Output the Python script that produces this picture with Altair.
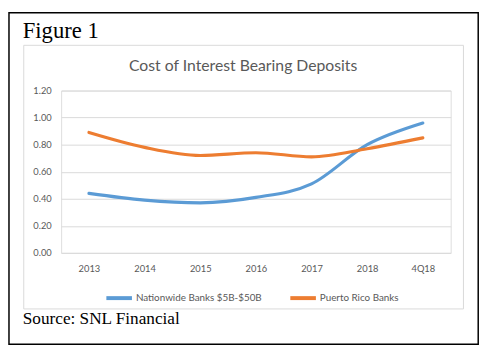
import altair as alt
import pandas as pd

categories = ["2013", "2014", "2015", "2016", "2017", "2018", "4Q18"]
nationwide = [0.44, 0.39, 0.37, 0.41, 0.51, 0.80, 0.96]
puerto_rico = [0.89, 0.78, 0.72, 0.74, 0.71, 0.77, 0.85]
series_names = ["Nationwide Banks $5B-$50B", "Puerto Rico Banks"]
series_colors = ["#5B9BD5", "#ED7D31"]
y_ticks = [0.0, 0.2, 0.4, 0.6, 0.8, 1.0, 1.2]

rows = []
for c, v in zip(categories, nationwide):
    rows.append({"cat": c, "value": v, "series": series_names[0]})
for c, v in zip(categories, puerto_rico):
    rows.append({"cat": c, "value": v, "series": series_names[1]})
df = pd.DataFrame(rows)

W, H = 396, 165
FONT = "Lato"

lines = alt.Chart(df).mark_line(strokeWidth=3.2, interpolate="monotone", strokeCap="round").encode(
    x=alt.X("cat:O", sort=categories, title=None,
            scale=alt.Scale(padding=0.5),
            axis=alt.Axis(labelAngle=0, domain=False, ticks=False, labelPadding=11,
                          labelFontSize=9.5, labelColor="#595959", labelFont=FONT)),
    y=alt.Y("value:Q", title=None,
            scale=alt.Scale(domain=[0, 1.2], nice=False),
            axis=alt.Axis(values=y_ticks, format=".2f", domain=False, ticks=False,
                          labelPadding=10, labelFontSize=9.5, labelColor="#595959",
                          labelFont=FONT, gridColor="#D9D9D9", gridWidth=1)),
    color=alt.Color("series:N", sort=series_names,
                    scale=alt.Scale(domain=series_names, range=series_colors),
                    legend=alt.Legend(title=None, orient="none", legendX=44, legendY=196,
                                      direction="horizontal", symbolType="stroke",
                                      symbolSize=676, symbolStrokeWidth=4,
                                      labelFontSize=10, labelColor="#595959", labelFont=FONT,
                                      labelOffset=2, columnPadding=20)),
)

outer = alt.Chart(pd.DataFrame({"a": [0]})).mark_rect(filled=False, stroke="black", strokeWidth=1.5).encode(
    x=alt.value(-53), x2=alt.value(424), y=alt.value(-79), y2=alt.value(258))
inner = alt.Chart(pd.DataFrame({"a": [0]})).mark_rect(filled=False, stroke="#D9D9D9", strokeWidth=1).encode(
    x=alt.value(-38), x2=alt.value(409), y=alt.value(-46), y2=alt.value(222))

fig_text = alt.Chart(pd.DataFrame({"t": ["Figure 1"]})).mark_text(
    font="Liberation Serif", fontSize=23, align="left", baseline="alphabetic", color="black").encode(
    text="t:N", x=alt.value(-39), y=alt.value(-53))
title_text = alt.Chart(pd.DataFrame({"t": ["Cost of Interest Bearing Deposits"]})).mark_text(
    font=FONT, fontSize=16, align="center", baseline="alphabetic", color="#595959").encode(
    text="t:N", x=alt.value(185), y=alt.value(-20))
source_text = alt.Chart(pd.DataFrame({"t": ["Source: SNL Financial"]})).mark_text(
    font="Liberation Serif", fontSize=17.5, align="left", baseline="alphabetic", color="black").encode(
    text="t:N", x=alt.value(-39), y=alt.value(237))

chart = alt.layer(outer, inner, lines, fig_text, title_text, source_text).properties(
    width=W, height=H,
    padding={"left": 54, "top": 81, "right": 41, "bottom": 107},
    autosize=alt.AutoSizeParams(type="none"),
).configure_view(stroke=None).configure(background="white")

chart.save("out.html", embed_options={"renderer": "svg", "actions": False})
